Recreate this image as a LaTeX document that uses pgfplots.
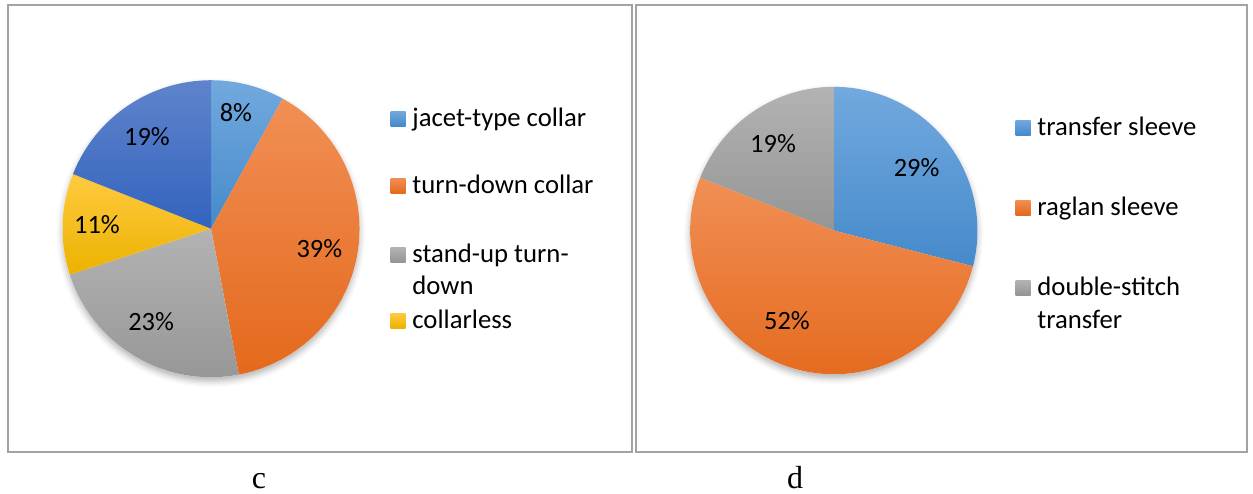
\documentclass[border=0pt]{standalone}
\usepackage{fontspec}
\setmainfont{Carlito}
\newfontfamily\capfont{Liberation Serif}
\usepackage{pgfplots}
\pgfplotsset{compat=1.18}
\usepackage{pgfplotstable}
\usetikzlibrary{shadows.blur}

% slice colours: T = top of the gradient, B = bottom
\definecolor{cblueT}{HTML}{72A9DE}
\definecolor{cblueB}{HTML}{458ACB}
\definecolor{corangeT}{HTML}{F18F55}
\definecolor{corangeB}{HTML}{E4691C}
\definecolor{cgrayT}{HTML}{B3B3B3}
\definecolor{cgrayB}{HTML}{959595}
\definecolor{cyellowT}{HTML}{FFCA40}
\definecolor{cyellowB}{HTML}{ECB200}
\definecolor{cdblueT}{HTML}{5F84CC}
\definecolor{cdblueB}{HTML}{3363BE}
\definecolor{frame}{HTML}{A3A3A3}

\newcommand\labfont{\fontsize{13.2pt}{15.8pt}\selectfont}
\newcommand\legfont{\fontsize{13.35pt}{16pt}\selectfont}

% pct = share in %, ang = label direction (deg, clockwise from 12 o'clock), lr = label distance / radius
\pgfplotstableread{
pct ang lr
8 12.1 0.80
39 100.5 0.742
23 212.7 0.747
11 272 0.768
19 325.1 0.753
}\collar

\pgfplotstableread{
pct ang lr
29 53 0.722
52 207.5 0.705
19 325.1 0.739
}\sleeve

% cumulative start/end angles for every slice of a table
\newcommand\preppie[2]{%
  \gdef\pcum{0}%
  \pgfplotstableforeachcolumnelement{pct}\of#1\as\val{%
    \pgfmathsetmacro\pa{\pcum*3.6}%
    \pgfmathsetmacro\pb{(\pcum+\val)*3.6}%
    \expandafter\xdef\csname#2s\pgfplotstablerow\endcsname{\pa}%
    \expandafter\xdef\csname#2e\pgfplotstablerow\endcsname{\pb}%
    \expandafter\xdef\csname#2p\pgfplotstablerow\endcsname{\val}%
    \pgfmathsetmacro\pc{\pcum+\val}\xdef\pcum{\pc}%
  }%
  \pgfplotstableforeachcolumnelement{ang}\of#1\as\val{%
    \expandafter\xdef\csname#2a\pgfplotstablerow\endcsname{\val}}%
  \pgfplotstableforeachcolumnelement{lr}\of#1\as\val{%
    \expandafter\xdef\csname#2r\pgfplotstablerow\endcsname{\val}}%
}
\preppie{\collar}{C}
\preppie{\sleeve}{S}

% #1 prefix, #2 row, #3 cx, #4 cy, #5 radius, #6 colour
\newcommand\pieslice[6]{%
  \shade[top color=#6T, bottom color=#6B]
    (axis cs:#3,#4) --
    (axis cs:{#3+#5*sin(\csname#1s#2\endcsname)},{#4-#5*cos(\csname#1s#2\endcsname)})
    arc[start angle={90-\csname#1s#2\endcsname}, end angle={90-\csname#1e#2\endcsname}, radius={#5*0.5pt}]
    -- cycle;}
\newcommand\pielabel[5]{%
  \node[font=\labfont, text=black, inner sep=0pt]
    at (axis cs:{#3+#5*\csname#1r#2\endcsname*sin(\csname#1a#2\endcsname)},{#4-#5*\csname#1r#2\endcsname*cos(\csname#1a#2\endcsname)})
    {\csname#1p#2\endcsname\%};}
% legend key: #1 x centre, #2 baseline, #3 colour
\newcommand\legsq[3]{%
  \shade[top color=#3T, bottom color=#3B] (axis cs:{#1-7.5},{#2-15}) rectangle (axis cs:{#1+7.5},{#2});}

\begin{document}
\begin{tikzpicture}
\begin{axis}[width=626.5pt, height=246.5pt, scale only axis,
  xmin=0, xmax=1253, ymin=0, ymax=493, y dir=reverse,
  hide axis, clip=false]
\path (axis cs:0,0) rectangle (axis cs:1253,493);

% frames
\draw[frame, line width=1pt] (axis cs:7.5,4.5) rectangle (axis cs:632,452);
\draw[frame, line width=1pt] (axis cs:635.5,4.5) rectangle (axis cs:1247,452);

% --- collar types ---
\fill[white, blur shadow={shadow xshift=0pt, shadow yshift=-2pt, shadow blur radius=3pt, shadow opacity=30}]
  (axis cs:211,228.7) circle[radius=74.25pt];
\pieslice{C}{0}{211}{228.7}{148.5}{cblue}
\pieslice{C}{1}{211}{228.7}{148.5}{corange}
\pieslice{C}{2}{211}{228.7}{148.5}{cgray}
\pieslice{C}{3}{211}{228.7}{148.5}{cyellow}
\pieslice{C}{4}{211}{228.7}{148.5}{cdblue}
\pielabel{C}{0}{211}{228.7}{148.5}
\pielabel{C}{1}{211}{228.7}{148.5}
\pielabel{C}{2}{211}{228.7}{148.5}
\pielabel{C}{3}{211}{228.7}{148.5}
\pielabel{C}{4}{211}{228.7}{148.5}

\legsq{398}{126}{cblue}
\legsq{398}{193}{corange}
\legsq{398}{262}{cgray}
\legsq{398}{328}{cyellow}
\node[anchor=base west, font=\legfont, inner sep=0pt] at (axis cs:412,126) {jacet-type collar};
\node[anchor=base west, font=\legfont, inner sep=0pt] at (axis cs:412,193) {turn-down collar};
\node[anchor=base west, font=\legfont, inner sep=0pt] at (axis cs:412,262) {stand-up turn-};
\node[anchor=base west, font=\legfont, inner sep=0pt] at (axis cs:412,294) {down};
\node[anchor=base west, font=\legfont, inner sep=0pt] at (axis cs:412,328) {collarless};

% --- sleeve types ---
\fill[white, blur shadow={shadow xshift=0pt, shadow yshift=-2pt, shadow blur radius=3pt, shadow opacity=30}]
  (axis cs:833.8,230.5) circle[radius=71.85pt];
\pieslice{S}{0}{833.8}{230.5}{143.7}{cblue}
\pieslice{S}{1}{833.8}{230.5}{143.7}{corange}
\pieslice{S}{2}{833.8}{230.5}{143.7}{cgray}
\pielabel{S}{0}{833.8}{230.5}{143.7}
\pielabel{S}{1}{833.8}{230.5}{143.7}
\pielabel{S}{2}{833.8}{230.5}{143.7}

\legsq{1023}{135}{cblue}
\legsq{1023}{215}{corange}
\legsq{1023}{295}{cgray}
\node[anchor=base west, font=\legfont, inner sep=0pt] at (axis cs:1037,135) {transfer sleeve};
\node[anchor=base west, font=\legfont, inner sep=0pt] at (axis cs:1037,215) {raglan sleeve};
\node[anchor=base west, font=\legfont, inner sep=0pt] at (axis cs:1037,295) {double-stitch};
\node[anchor=base west, font=\legfont, inner sep=0pt] at (axis cs:1037,328) {transfer};

% panel captions
\node[anchor=base, font=\capfont\fontsize{16pt}{19pt}\selectfont, inner sep=0pt] at (axis cs:259,488) {c};
\node[anchor=base, font=\capfont\fontsize{16pt}{19pt}\selectfont, inner sep=0pt] at (axis cs:795,488) {d};
\end{axis}
\end{tikzpicture}
\end{document}
